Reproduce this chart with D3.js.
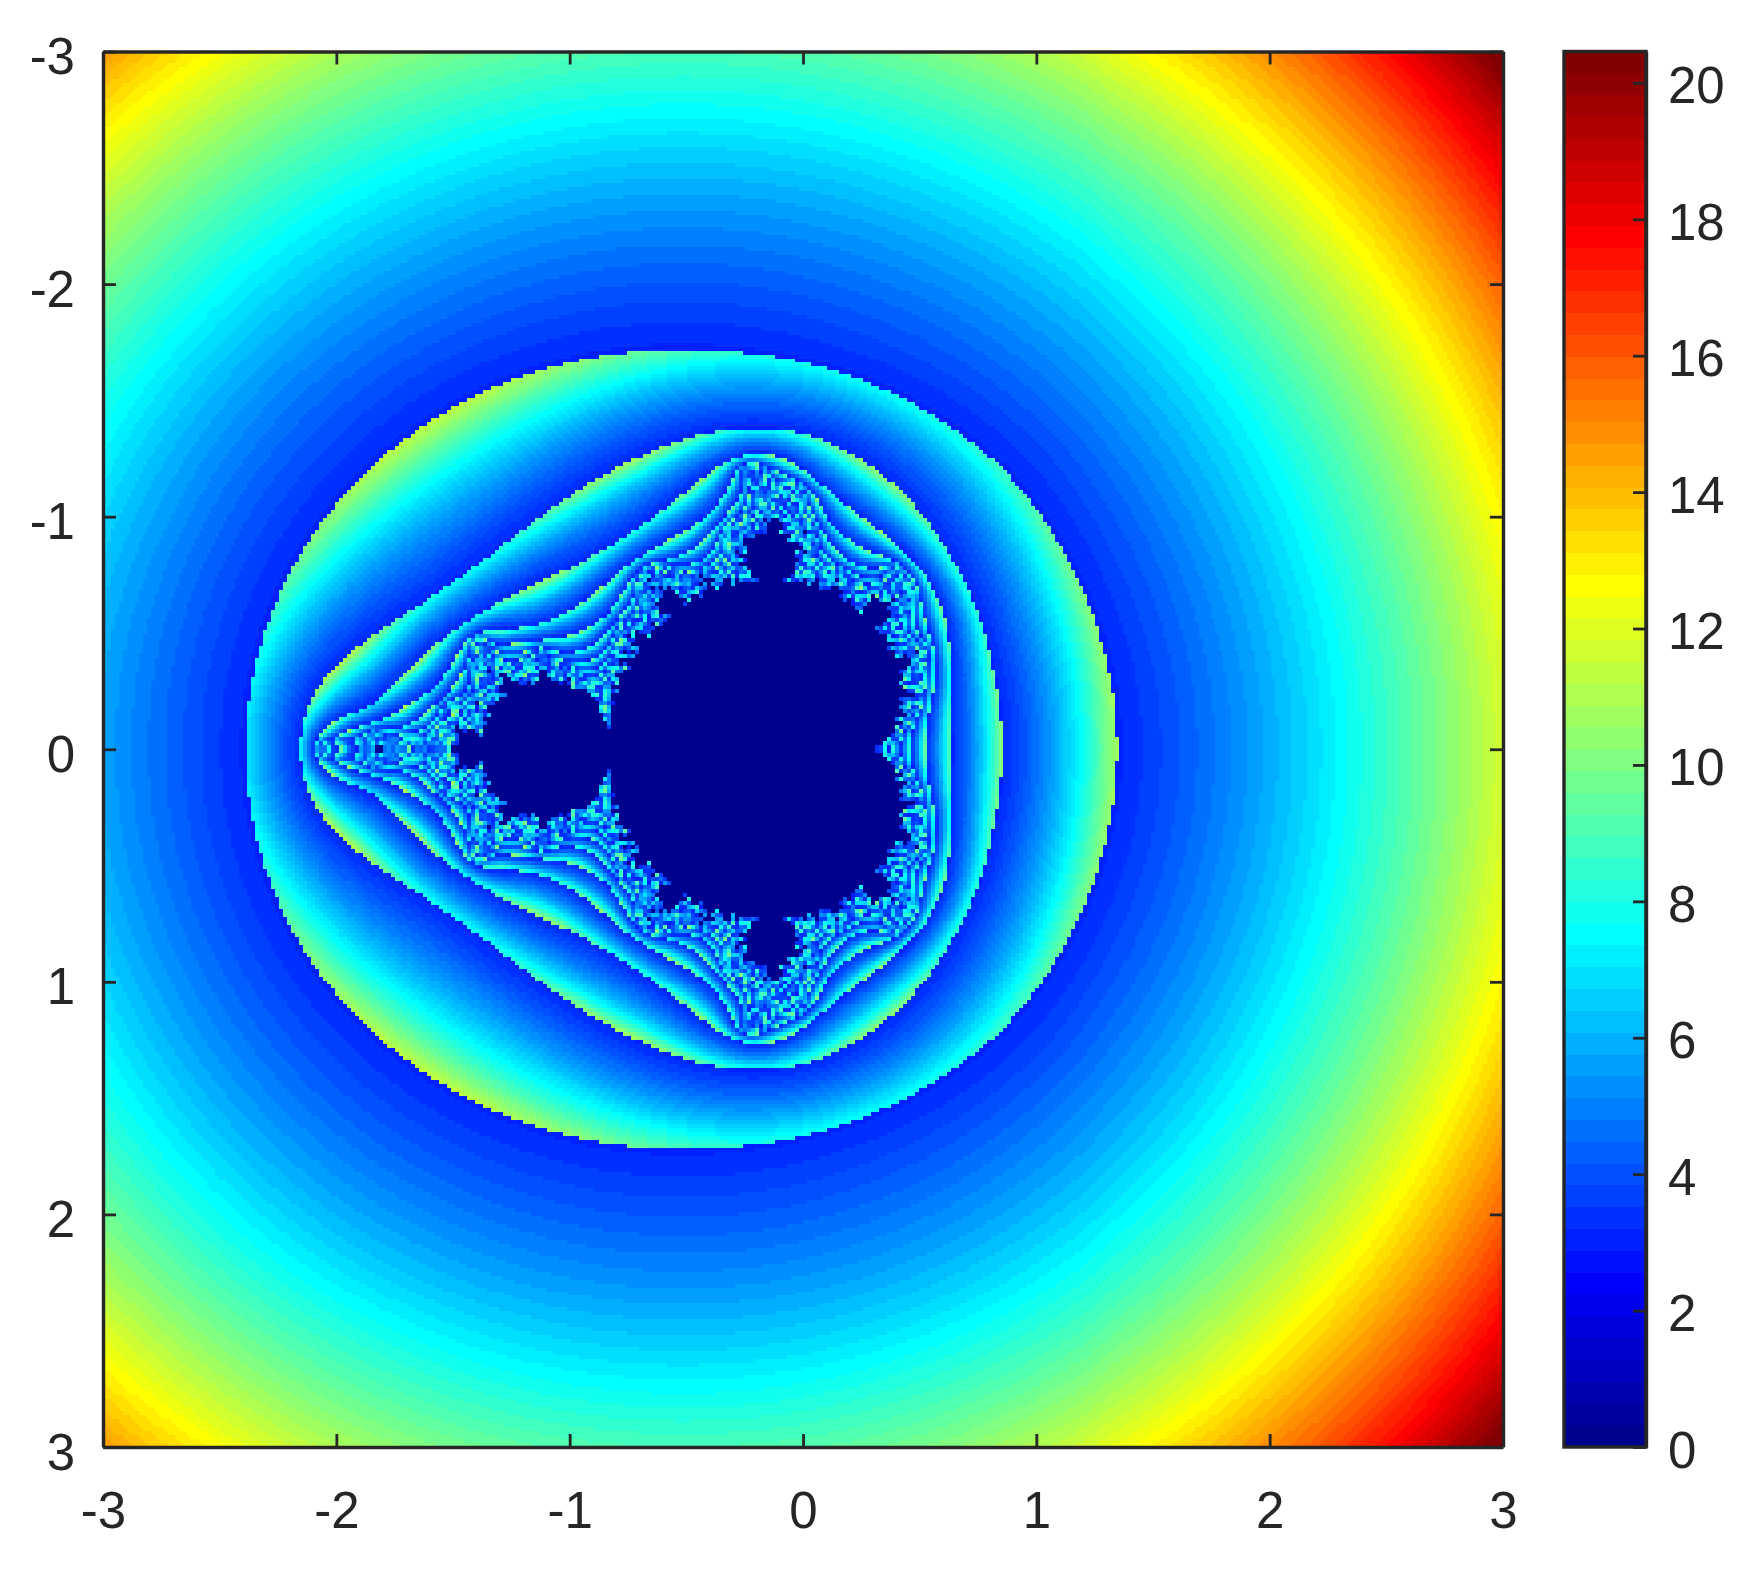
<!DOCTYPE html>
<html><head><meta charset="utf-8">
<script src="https://cdn.jsdelivr.net/npm/d3@7"></script>
<style>
html,body{margin:0;padding:0;background:#fff;width:1755px;height:1577px;overflow:hidden}
#wrap{position:relative;width:1755px;height:1577px}
canvas{position:absolute;left:0;top:0;filter:blur(.7px)}
svg{position:absolute;left:0;top:0;filter:blur(.45px)}
text{font-family:"Liberation Sans",Arial,sans-serif;font-size:51px;fill:#262626}
</style></head><body><div id="wrap"><canvas id="c" width="1755" height="1577"></canvas><svg id="s" width="1755" height="1577"></svg></div>
<script>
// Tick labels
const xTicks = [-3,-2,-1,0,1,2,3];
const yTicks = [-3,-2,-1,0,1,2,3];
const barTicks = [0,2,4,6,8,10,12,14,16,18,20];
const barMax = 20.46;
// Colormap anchors (64-level jet): level index, r, g, b
const jetIndex = [0,7,23,39,55,63];
const jetR = [0,0,0,1,1,.5];
const jetG = [0,0,1,1,0,0];
const jetB = [.5625,1,1,0,0,0];
// NOTE: the ~350x350 cell field cannot be read by eye. It is COMPUTED, not transcribed:
// an escape-time iteration whose constants were fitted by eye to the reference.
const gridSize = 350, maxIter = 40, escapeR2 = 9.7;
const quadLow = .905, quadHigh = .965, quadRight = .975;
const kneeR = [1.36,1.75], kneeRe = [.7,1.3];

const box = {l:103,r:1503,t:51.5,b:1447}, bar = {l:1564,r:1646};
const W = d3.range(gridSize);
const dom = [-3,3];
const x = d3.scaleLinear().domain(dom).range([box.l,box.r]);
const y = d3.scaleLinear().domain(dom).range([box.t,box.b]);
const band = d3.scaleBand().domain(W).range([0,gridSize]);
const cx = i => -3 + 6*(band(i)+.5)/gridSize;

const rr = d3.scaleLinear().domain(jetIndex).range(jetR), gg = d3.scaleLinear().domain(jetIndex).range(jetG), bb = d3.scaleLinear().domain(jetIndex).range(jetB);
const jet = d3.range(64).map(i => d3.rgb(rr(i)*255,gg(i)*255,bb(i)*255).formatHex());
const color = d3.scaleQuantize().domain([0,barMax]).range(jet);
const v = d3.scaleLinear().domain([0,barMax]).range([box.b,box.t]);

const quadByR = d3.scaleLinear().domain(kneeR).range([quadLow,quadHigh]).clamp(true);
const quadByRe = d3.scaleLinear().domain(kneeRe).range([quadLow,quadRight]).clamp(true);
function field(a,b){
  let zr=a, zi=b;
  for(let n=0;n<maxIter;n++){
    const k=Math.max(quadByR(Math.hypot(zr,zi)),quadByRe(zr));
    const nr=k*(zr*zr-zi*zi)+a, ni=k*2*zr*zi+b;
    zr=nr; zi=ni;
    const m=zr*zr+zi*zi;
    if(m>escapeR2) return Math.sqrt(m);
  }
  return 0;
}
const ctx=document.getElementById('c').getContext('2d');
const sx=(box.r-box.l)/gridSize, sy=(box.b-box.t)/gridSize;
W.forEach(j=>{
  const y0=Math.round(y(-3)+band(j)*sy), y1=Math.round(y(-3)+(band(j)+1)*sy);
  W.forEach(i=>{
    const x0=Math.round(x(-3)+band(i)*sx), x1=Math.round(x(-3)+(band(i)+1)*sx);
    ctx.fillStyle=color(Math.min(field(cx(i),cx(j)),barMax));
    ctx.fillRect(x0,y0,x1-x0,y1-y0);
  });
});
// colorbar
const bh=(box.b-box.t)/64;
jet.forEach((c,i)=>{
  const y1=Math.round(box.b-i*bh), y0=Math.round(box.b-(i+1)*bh);
  ctx.fillStyle=c;ctx.fillRect(bar.l,y0,bar.r-bar.l,y1-y0);
});

const svg=d3.select('#s');
const ink='#262626', lw=3.4, tl=13;
function style(g){g.selectAll('.domain').attr('stroke',ink).attr('stroke-width',lw);g.selectAll('.tick line').attr('stroke',ink).attr('stroke-width',lw-.6);}
const fmt=d=>String(d), none=()=>'';
svg.append('g').attr('transform',`translate(0,${box.b})`).call(d3.axisBottom(x).tickValues(xTicks).tickSizeInner(-tl).tickSizeOuter(0).tickFormat(fmt)).call(style)
  .call(g=>g.selectAll('text').attr('y',81).attr('dy',0).attr('text-anchor','middle'));
svg.append('g').attr('transform',`translate(0,${box.t})`).call(d3.axisTop(x).tickValues(xTicks).tickSizeInner(-tl).tickSizeOuter(0).tickFormat(none)).call(style);
svg.append('g').attr('transform',`translate(${box.l},0)`).call(d3.axisLeft(y).tickValues(yTicks).tickSizeInner(-tl).tickSizeOuter(0).tickFormat(fmt)).call(style)
  .call(g=>g.selectAll('text').attr('x',-28).attr('dy',0).attr('y',22).attr('text-anchor','end'));
svg.append('g').attr('transform',`translate(${box.r},0)`).call(d3.axisRight(y).tickValues(yTicks).tickSizeInner(-tl).tickSizeOuter(0).tickFormat(none)).call(style);
// colorbar frame and axis
svg.append('rect').attr('x',bar.l).attr('y',box.t).attr('width',bar.r-bar.l).attr('height',box.b-box.t).attr('fill','none').attr('stroke',ink).attr('stroke-width',lw);
svg.append('g').attr('transform',`translate(${bar.r},0)`).call(d3.axisRight(v).tickValues(barTicks).tickSizeInner(-tl).tickSizeOuter(0).tickFormat(fmt)).call(style)
  .call(g=>g.selectAll('text').attr('x',22).attr('dy',0).attr('y',20).attr('text-anchor','start'));
</script></body></html>
